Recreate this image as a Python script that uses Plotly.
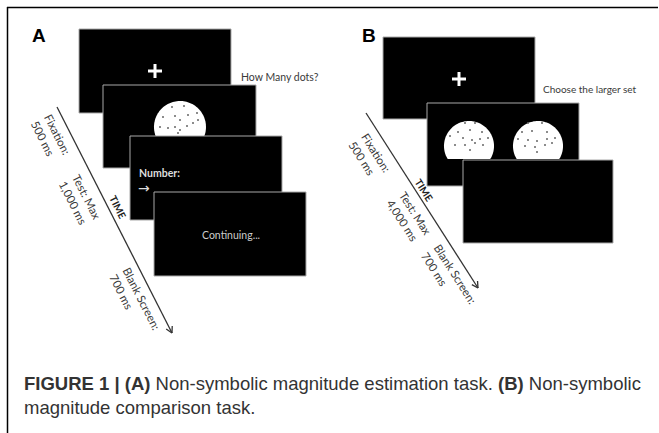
import numpy as np
import plotly.graph_objects as go

W, H = 659, 433

# ---------------- content ----------------
panel_labels = ["A", "B"]
prompt_texts = ["How Many dots?", "Choose the larger set"]
screen_texts_A = ["", "", "Number:", "Continuing..."]
timeline_labels_A = ["Fixation:<br>500 ms", "Test: Max<br>1,000 ms", "Blank Screen:<br>700 ms"]
timeline_labels_B = ["Fixation:<br>500 ms", "Test: Max<br>4,000 ms", "Blank Screen:<br>700 ms"]
time_word = "TIME"
caption = ("<b>FIGURE 1 | (A)</b> Non-symbolic magnitude estimation task. "
           "<b>(B)</b> Non-symbolic<br>magnitude comparison task.")

# dot positions inside the dot-array circles
dotsA_x = [172, 184, 163, 175, 180, 188, 197, 160, 168, 175, 180, 187, 193, 198, 178]
dotsA_y = [107, 106, 117, 116, 120, 115, 113, 127, 128, 127, 130, 126, 123, 120, 133]
dotsB1_x = [465, 475, 458, 470, 482, 450, 463, 472, 480, 488, 455, 465, 475, 483, 470]
dotsB1_y = [123, 123, 132, 130, 132, 136, 138, 140, 139, 138, 145, 145, 143, 145, 150]
dotsB2_x = [528, 542, 522, 532, 547, 518, 528, 537, 547, 555, 525, 535, 545, 552, 537]
dotsB2_y = [123, 123, 132, 131, 132, 139, 140, 141, 139, 138, 146, 147, 145, 143, 152]

# ---------------- layout geometry ----------------
screensA = [(79, 29, 231, 113), (103, 85, 256, 168), (130, 136, 282, 220), (154, 192, 306, 276)]
screensB = [(383, 37, 535, 119), (427, 103, 579, 186), (463, 160, 613, 243)]

shapes = []
annotations = []
TXT = "#3a3a3a"
FONT = "Lato"


def screen(r):
    x0, y0, x1, y1 = r
    return dict(type="rect", x0=x0, y0=y0, x1=x1, y1=y1, fillcolor="black",
                line=dict(color="#a8a8a8", width=1), layer="below")


def cross(cx, cy, s=7):
    return [dict(type="line", x0=cx - s, y0=cy, x1=cx + s, y1=cy, line=dict(color="white", width=3), layer="below"),
            dict(type="line", x0=cx, y0=cy - s, x1=cx, y1=cy + s, line=dict(color="white", width=3), layer="below")]


def cut_circle(cx, cy, r, ycut):
    t = np.linspace(0, 2 * np.pi, 120)
    xs = cx + r * np.cos(t)
    ys = np.minimum(cy + r * np.sin(t), ycut)
    d = "M " + " L ".join(f"{a:.2f},{b:.2f}" for a, b in zip(xs, ys)) + " Z"
    return dict(type="path", path=d, fillcolor="white", line=dict(width=0), layer="below")


def arrow(x0, y0, x1, y1, head=7):
    ang = np.arctan2(y1 - y0, x1 - x0)
    out = [dict(type="line", x0=x0, y0=y0, x1=x1, y1=y1, line=dict(color="#333333", width=1.3), layer="below")]
    for da in (np.pi * 0.84, -np.pi * 0.84):
        out.append(dict(type="line", x0=x1, y0=y1,
                        x1=x1 + head * np.cos(ang + da), y1=y1 + head * np.sin(ang + da),
                        line=dict(color="#333333", width=1.3), layer="below"))
    return out


# frame lines (top and left)
shapes.append(dict(type="line", x0=7, y0=7.5, x1=658, y1=7.5, line=dict(color="black", width=1.5), layer="below"))
shapes.append(dict(type="line", x0=7.5, y0=7, x1=7.5, y1=433, line=dict(color="black", width=1.5), layer="below"))

# ---- Panel A ----
shapes.append(screen(screensA[0]))
shapes += cross(155, 71)
shapes.append(screen(screensA[1]))
shapes.append(cut_circle(180, 127, 26, 136))
shapes.append(screen(screensA[2]))
shapes.append(screen(screensA[3]))
shapes += arrow(57, 107, 172, 333)

# ---- Panel B ----
shapes.append(screen(screensB[0]))
shapes += cross(459, 79)
shapes.append(screen(screensB[1]))
shapes.append(cut_circle(469, 146, 25, 159))
shapes.append(cut_circle(538, 146, 25, 159))
shapes.append(screen(screensB[2]))
shapes += arrow(366, 113, 478, 288)

# panel labels
for lab, x in zip(panel_labels, [39, 369]):
    annotations.append(dict(x=x, y=35, text=f"<b>{lab}</b>", showarrow=False,
                            font=dict(family="Liberation Sans", size=19, color="black")))

# prompts
annotations.append(dict(x=239, y=77, text=prompt_texts[0], showarrow=False, xanchor="left",
                        font=dict(family=FONT, size=10.5, color=TXT)))
annotations.append(dict(x=541, y=89, text=prompt_texts[1], showarrow=False, xanchor="left",
                        font=dict(family=FONT, size=10, color=TXT)))

# screen texts
annotations.append(dict(x=137, y=173, text=f"<b>{screen_texts_A[2]}</b>", showarrow=False, xanchor="left",
                        font=dict(family=FONT, size=10.5, color="#dddddd")))
annotations.append(dict(x=136, y=188, text="→", showarrow=False, xanchor="left",
                        font=dict(family="DejaVu Sans", size=14, color="#dddddd")))
annotations.append(dict(x=231, y=235, text=screen_texts_A[3], showarrow=False,
                        font=dict(family=FONT, size=10.5, color="#cccccc")))

# timeline labels
angA = np.degrees(np.arctan2(333 - 107, 172 - 57))
angB = np.degrees(np.arctan2(288 - 113, 478 - 366))
posA = [(51, 138), (80, 200), (135, 302)]
posB = [(370, 157), (409, 217), (449, 278)]
for t, (x, y) in zip(timeline_labels_A, posA):
    annotations.append(dict(x=x, y=y, text=t, showarrow=False, textangle=angA, align="left",
                            font=dict(family=FONT, size=11.5, color=TXT)))
for t, (x, y) in zip(timeline_labels_B, posB):
    annotations.append(dict(x=x, y=y, text=t, showarrow=False, textangle=angB, align="left",
                            font=dict(family=FONT, size=11.5, color=TXT)))
annotations.append(dict(x=118, y=207, text=f"<b>{time_word}</b>", showarrow=False, textangle=angA,
                        font=dict(family=FONT, size=10, color="#222222")))
annotations.append(dict(x=424, y=190, text=f"<b>{time_word}</b>", showarrow=False, textangle=angB,
                        font=dict(family=FONT, size=10, color="#222222")))

# caption
annotations.append(dict(x=22, y=395, text=caption, showarrow=False, xanchor="left", yanchor="middle",
                        align="left", font=dict(family="Liberation Sans", size=18.5, color="#333333")))

fig = go.Figure()
for xs, ys in [(dotsA_x, dotsA_y), (dotsB1_x, dotsB1_y), (dotsB2_x, dotsB2_y)]:
    fig.add_trace(go.Scatter(x=xs, y=ys, mode="markers", hoverinfo="skip",
                             marker=dict(size=2, color="#666666")))

fig.update_layout(
    width=W, height=H, margin=dict(l=0, r=0, t=0, b=0),
    paper_bgcolor="white", plot_bgcolor="white", showlegend=False,
    xaxis=dict(range=[0, W], visible=False, fixedrange=True),
    yaxis=dict(range=[H, 0], visible=False, fixedrange=True),
    shapes=shapes, annotations=annotations,
)
fig.write_html("out.html", post_script="document.body.style.margin='0';",
               config={"displayModeBar": False})
